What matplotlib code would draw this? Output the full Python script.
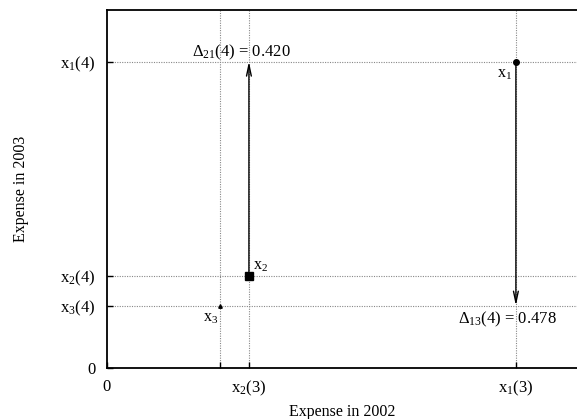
import matplotlib
matplotlib.use("Agg")
import matplotlib.pyplot as plt

# expense shares (fraction of axis range)
names = ["x$_1$", "x$_2$", "x$_3$"]
exp_2002 = [0.870, 0.302, 0.240]
exp_2003 = [0.856, 0.258, 0.174]
markers = ["o", "s", "^"]
marker_sizes = [4, 6, 2.5]

xtick_vals = [0, 0.240, 0.302, 0.870]
xtick_labels = ["0", "", "x$_2$(3)", "x$_1$(3)"]
ytick_vals = [0, 0.174, 0.258, 0.856]
ytick_labels = ["0", "x$_3$(4)", "x$_2$(4)", "x$_1$(4)"]

delta_21 = 0.420
delta_13 = 0.478

plt.rcParams["font.family"] = ["Liberation Serif", "DejaVu Serif"]
plt.rcParams["mathtext.fontset"] = "custom"
plt.rcParams["mathtext.rm"] = "Liberation Serif"
plt.rcParams["mathtext.it"] = "Liberation Serif:italic"
plt.rcParams["font.size"] = 11.5

fig = plt.figure(figsize=(5.77, 4.19), dpi=100)
ax = fig.add_axes([0.1854, 0.1217, 0.8146, 0.8544])
ax.set_xlim(0, 1.0)
ax.set_ylim(0, 1.0)

grid_kw = dict(color="#888888", lw=0.8, ls=(0, (1, 1.2)), zorder=1)
for xv in exp_2002:
    ax.axvline(xv, **grid_kw)
for yv in exp_2003:
    ax.axhline(yv, **grid_kw)

for xv, yv, m, ms in zip(exp_2002, exp_2003, markers, marker_sizes):
    ax.plot(xv, yv, marker=m, ms=ms, color="black", ls="none", zorder=4)

arrow_kw = dict(arrowstyle="->,head_width=0.15,head_length=0.7", lw=1.0, color="black",
                shrinkA=0, shrinkB=0)
ax.annotate("", xy=(exp_2002[1], exp_2003[0]), xytext=(exp_2002[1], exp_2003[1]),
            arrowprops=arrow_kw, zorder=3)
ax.annotate("", xy=(exp_2002[0], exp_2003[2]), xytext=(exp_2002[0], exp_2003[0]),
            arrowprops=arrow_kw, zorder=3)

ax.text(exp_2002[1] + 0.088, exp_2003[0] - 0.002, r"$\Delta_{21}$(4) = %.3f" % delta_21,
        ha="right", va="bottom", fontsize=12)
ax.text(exp_2002[0] + 0.087, exp_2003[2] - 0.012, r"$\Delta_{13}$(4) = %.3f" % delta_13,
        ha="right", va="top", fontsize=12)

ax.annotate(names[0], (exp_2002[0], exp_2003[0]), xytext=(-3, -3), textcoords="offset points",
            ha="right", va="top")
ax.annotate(names[1], (exp_2002[1], exp_2003[1]), xytext=(3, 1), textcoords="offset points",
            ha="left", va="bottom")
ax.annotate(names[2], (exp_2002[2], exp_2003[2]), xytext=(-1, -3), textcoords="offset points",
            ha="right", va="top")

ax.set_xticks(xtick_vals)
ax.set_xticklabels(xtick_labels)
ax.set_yticks(ytick_vals)
ax.set_yticklabels(ytick_labels)
ax.tick_params(direction="in", length=4, width=1, labelsize=12, pad=8)

for s in ["left", "bottom", "top"]:
    ax.spines[s].set_linewidth(1.3)
ax.spines["right"].set_visible(False)

ax.set_xlabel("Expense in 2002", labelpad=4)
ax.set_ylabel("Expense in 2003", labelpad=23)

fig.savefig("out.png", dpi=100)
